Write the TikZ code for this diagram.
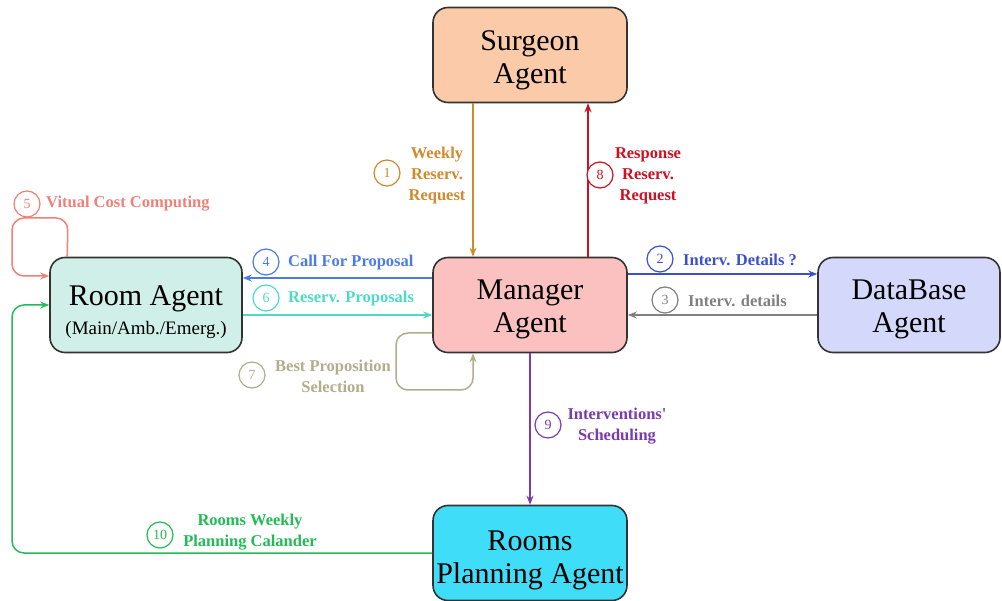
\documentclass[tikz,border=0pt]{standalone}
\usepackage{fontspec}
\setmainfont{Liberation Serif}
\newfontfamily\nomapfont{Liberation Serif}[Ligatures=ResetAll]
\usetikzlibrary{arrows.meta}
\definecolor{cOr}{HTML}{D08A2E}
\definecolor{cRed}{HTML}{CC1122}
\definecolor{cBlueA}{HTML}{4A7BE8}
\definecolor{cTurq}{HTML}{4DDCC2}
\definecolor{cBlueB}{HTML}{3C4FD0}
\definecolor{cGray}{HTML}{808080}
\definecolor{cSalm}{HTML}{F08078}
\definecolor{cOliv}{HTML}{B0AE8C}
\definecolor{cPurp}{HTML}{7A3AB0}
\definecolor{cGreen}{HTML}{22BB55}
\definecolor{fSur}{HTML}{FBCBA9}
\definecolor{fMan}{HTML}{FBC1C1}
\definecolor{fRoom}{HTML}{CFEFE8}
\definecolor{fDB}{HTML}{D4D8FA}
\definecolor{fRP}{HTML}{40DDF9}
\definecolor{bord}{HTML}{333333}
\newcommand\upstr[1]{\rule{0pt}{#1}}
\begin{document}
\begin{tikzpicture}[x=1pt,y=-1pt,
  agent/.style={draw=bord,line width=1.6pt,rounded corners=15pt,minimum width=194pt,minimum height=95pt,align=center,font=\fontsize{30}{33}\selectfont,inner sep=0pt},
  conn/.style={line width=1.5pt,-{Stealth[length=9pt,width=7pt]}},
  numc/.style={circle,draw,line width=1.2pt,minimum size=26pt,inner sep=0pt,font=\fontsize{14}{14}\selectfont},
  lab/.style={font=\bfseries\fontsize{16.5}{21}\selectfont,align=center,inner sep=0pt}]
\useasboundingbox (0,0) rectangle (1002,601);
% agents
\node[agent,fill=fSur] (sur) at (530,55) {\upstr{30pt}Surgeon\\Agent};
\node[agent,fill=fMan] (man) at (530,305) {\upstr{29pt}Manager\\Agent};
\node[agent,fill=fRoom,minimum width=192pt] (room) at (146,305) {\upstr{35pt}Room Agent\\[-4pt]{\fontsize{19}{22}\selectfont(Main/Amb./Emerg.)}};
\node[agent,fill=fDB,minimum width=182pt] (db) at (909,305) {\upstr{29pt}DataBase\\Agent};
\node[agent,fill=fRP,minimum height=95pt] (rp) at (530,553) {\upstr{35pt}Rooms\\Planning Agent};
% connectors
\draw[conn,cOr] ([xshift=-57pt]sur.south) -- ([xshift=-57pt]man.north);
\draw[conn,cRed] ([xshift=58pt]man.north) -- ([xshift=58pt]sur.south);
\draw[conn,cBlueA] ([yshift=27pt]man.west) -- ([yshift=27pt]room.east);
\draw[conn,cTurq] ([yshift=-10pt]room.east) -- ([yshift=-10pt]man.west);
\draw[conn,cBlueB] ([yshift=31pt]man.east) -- ([yshift=31pt]db.west);
\draw[conn,cGray] ([yshift=-10pt]db.west) -- ([yshift=-10pt]man.east);
\draw[conn,cSalm,rounded corners=12pt] ([xshift=18pt]room.north west) -- (68,218) -- (12,218) -- (12,276) -- ([yshift=29pt]room.west);
\draw[conn,cOliv,rounded corners=12pt] ([yshift=-28pt]man.west) -- (396,333) -- (396,390) -- (473,390) -- ([xshift=-57pt]man.south);
\draw[conn,cPurp] (man.south) -- (rp.north);
\draw[conn,cGreen,rounded corners=12pt] (rp.west) -- (12,553) -- (12,305) -- (room.west);
% labels
\node[numc,cOr,fill=white] (n1) at (387,173) {1};
\node[lab,cOr] (l1) at (437,176) {Weekly\\Reserv.\\Request};
\node[numc,cRed,fill=white] (n8) at (600,175) {8};
\node[lab,cRed] (l8) at (648,176) {Response\\Reserv.\\Request};
\node[numc,cBlueA,fill=white] (n4) at (266,262) {4};
\node[lab,cBlueA,anchor=west] (l4) at (288,263) {Call For Proposal};
\node[numc,cTurq,fill=white] (n6) at (266,298) {6};
\node[lab,cTurq,anchor=west] (l6) at (288,299) {Reserv. Proposals};
\node[numc,cBlueB,fill=white] (n2) at (660,259) {2};
\node[lab,cBlueB,anchor=west] (l2) at (683,260) {Interv. Details ?};
\node[numc,cGray,fill=white] (n3) at (665,300) {3};
\node[lab,cGray,anchor=west] (l3) at (688,301) {Interv. details};
\node[numc,cSalm,fill=white] (n5) at (27,204) {5};
\node[lab,cSalm,anchor=west] (l5) at (46,204) {Vitual Cost Computing};
\node[numc,cOliv,fill=white] (n7) at (252,375) {7};
\node[lab,cOliv] (l7) at (333,376) {Best Proposition\\Selection};
\node[numc,cPurp,fill=white] (n9) at (548,425) {9};
\node[lab,cPurp] (l9) at (617,426) {Interventions{\nomapfont\bfseries '}\\Scheduling};
\node[numc,cGreen,fill=white] (n10) at (160,535) {10};
\node[lab,cGreen] (l10) at (250,532) {Rooms Weekly\\Planning Calander};
\end{tikzpicture}
\end{document}
